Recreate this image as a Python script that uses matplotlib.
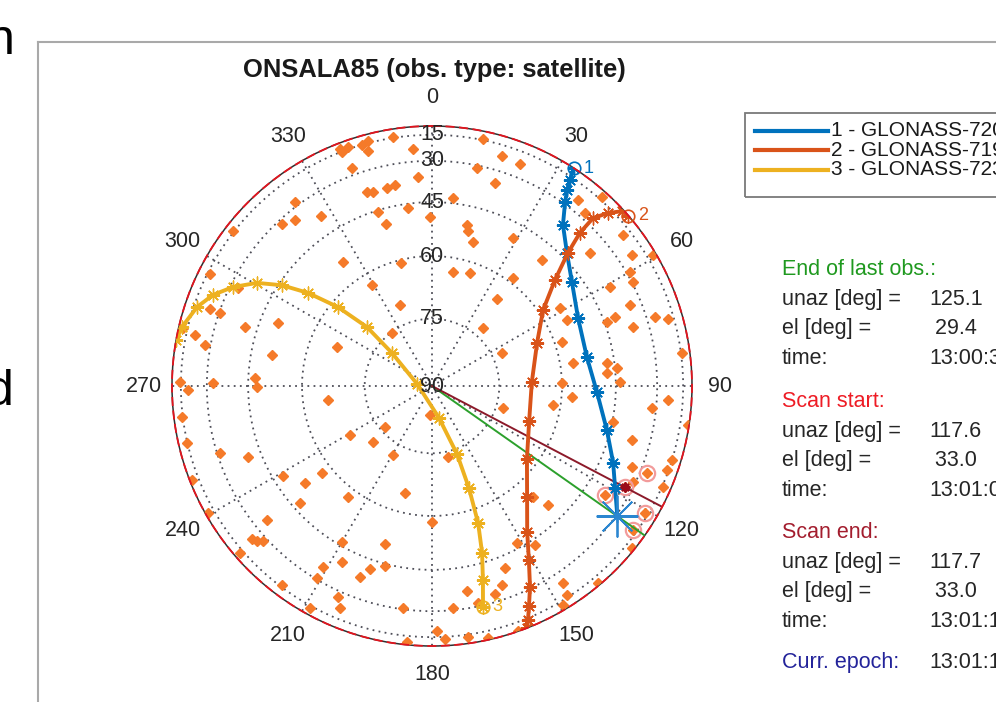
import numpy as np
import matplotlib.pyplot as plt
from matplotlib.patches import Rectangle
from matplotlib.lines import Line2D

plt.rcParams['font.family'] = ['Liberation Sans', 'DejaVu Sans']

title = 'ONSALA85 (obs. type: satellite)'

sat_names = ['1 - GLONASS-720', '2 - GLONASS-719', '3 - GLONASS-723']
sat_colors = ['#0072bd', '#d95319', '#edb120']

# track samples: unambiguous azimuth and elevation [deg]
az_sat1 = [33.0, 33.8, 34.6, 35.9, 39.1, 45.4, 53.4, 65.0, 79.4, 92.1, 104.1, 113.0, 119.1, 125.1]
el_sat1 = [2.0, 17.5, 23.8, 29.2, 37.0, 43.2, 47.9, 51.7, 52.7, 50.6, 46.1, 40.8, 36.3, 29.4]

az_sat2 = [49.0, 47.4, 45.5, 43.8, 44.0, 45.6, 49.2, 55.6, 67.7, 87.7, 109.8, 127.5, 139.4,
           146.9, 150.9, 154.0, 156.2, 157.7, 158.6]
el_sat2 = [2.0, 6.6, 18.4, 26.5, 35.0, 43.0, 51.3, 58.8, 64.1, 67.4, 66.6, 62.6, 55.8,
           47.9, 40.0, 30.7, 22.4, 13.4, 2.0]

az_sat3 = [167.0, 165.3, 163.3, 161.4, 160.1, 159.8, 167.7, 277.6, 309.5, 312.2, 310.0,
           306.9, 303.9, 300.5, 296.4, 292.6, 288.6, 283.3, 280.1]
el_sat3 = [29.3, 39.5, 47.9, 56.2, 65.3, 73.8, 82.8, 86.7, 78.5, 70.3, 61.8,
           53.4, 46.0, 38.6, 31.2, 24.2, 17.6, 8.9, 1.0]

# other sources of the schedule
az_src = [351.1, 345.4, 343.8, 344.8, 340.6, 338.8, 339.0, 355.4, 339.8, 356.2, 341.5, 343.1,
          347.2, 349.6, 323.3, 342.8, 352.3, 359.3, 317.2, 320.5, 326.9, 344.1, 307.9, 324.3,
          345.9, 296.8,
          11.7, 16.9, 21.6, 11.7, 17.2, 6.4, 12.3, 13.1, 15.9, 28.7, 38.1, 42.0, 41.5, 49.9,
          51.7, 56.8, 59.3, 41.1, 10.4, 18.6, 36.9, 60.1, 62.6, 60.9, 36.8, 58.6, 67.8, 72.8,
          74.2, 63.9, 69.9, 69.3, 73.6, 41.3, 71.3,
          329.3, 296.8, 289.1, 289.0, 338.4, 287.5, 292.2, 283.1, 282.1, 280.2, 323.0, 292.3,
          281.0, 270.9, 270.8, 272.6, 269.7, 269.1, 262.3, 183.9, 262.9, 228.9, 239.1, 226.5,
          256.9,
          64.8, 80.7, 82.5, 85.8, 84.4, 88.8, 88.7, 94.5, 93.4, 95.7, 98.9, 107.2, 209.5, 167.3,
          105.1, 107.1, 112.0, 135.7, 137.7, 194.2, 180.0,
          82.5, 101.2, 98.7, 109.7, 113.6, 112.0, 115.5, 122.2, 120.8, 125.6, 151.6, 147.1,
          129.0, 158.1, 146.4, 139.9, 147.1, 149.1, 117.6,
          252.5, 248.9, 238.9, 231.7, 232.6, 217.1, 228.4, 248.6, 240.4, 230.9, 229.6, 228.5,
          227.5, 210.0, 196.6, 229.0, 207.1, 211.1, 198.7, 194.6, 200.7, 210.9, 217.0, 170.3,
          160.6, 163.1, 204.0, 208.8, 202.5, 187.4, 174.6, 168.0, 178.8, 177.1, 185.6, 171.8,
          167.5, 160.7]
el_src = [14.3, 13.1, 15.2, 20.5, 13.1, 12.1, 15.4, 23.8, 26.7, 36.3, 38.1, 38.7,
          38.7, 38.2, 28.1, 45.5, 46.3, 49.5, 31.9, 34.1, 38.7, 49.6, 14.1, 54.1,
          60.8, 17.0,
          14.1, 22.4, 23.3, 31.1, 35.1, 43.3, 50.7, 52.3, 54.8, 49.5, 24.5, 12.1, 27.4, 37.4,
          20.5, 23.1, 8.9, 50.0, 63.5, 62.7, 58.7, 28.5, 29.5, 38.4, 65.3, 54.8, 34.6, 26.1,
          19.3, 54.7, 44.2, 41.2, 36.3, 72.7, 58.1,
          63.1, 33.3, 25.3, 30.5, 70.4, 41.0, 50.2, 10.5, 21.2, 27.5, 75.2, 66.7,
          51.2, 14.3, 32.6, 47.0, 47.7, 20.2, 66.2, 83.6, 14.3, 76.1, 68.5, 71.8,
          14.7,
          72.7, 56.6, 47.2, 47.5, 44.4, 43.7, 60.0, 57.3, 24.6, 31.8, 61.9, 73.4, 72.2, 73.7,
          37.2, 15.0, 26.9, 50.3, 54.7, 64.9, 58.5,
          14.1, 44.8, 5.0, 16.3, 14.1, 33.9, 31.0, 38.2, 17.5, 18.0, 46.6, 43.2,
          8.1, 41.0, 24.5, 7.8, 16.9, 11.0, 33.0,
          31.2, 40.7, 47.9, 57.4, 52.1, 57.6, 47.3, 7.6, 8.0, 35.1, 24.7, 25.9,
          28.1, 46.1, 50.7, 11.8, 40.5, 35.6, 42.0, 44.3, 38.3, 30.6, 16.6, 36.9,
          35.8, 33.3, 27.3, 13.1, 22.5, 30.6, 30.9, 31.5, 19.5, 13.1, 8.5, 12.8,
          6.8, 2.0]

# sources flagged around the antenna position
az_cand = [112.0, 122.2, 120.8, 125.6, 117.6]
el_cand = [26.9, 38.2, 17.5, 18.0, 33.0]

last_unaz, last_el, last_time = 125.1, 29.4, '13:00:3'
start_unaz, start_el, start_time = 117.6, 33.0, '13:01:0'
end_unaz, end_el, end_time = 117.7, 33.0, '13:01:1'
curr_epoch = '13:01:1'

W, H = 996, 702


def fx(x):
    return x / W


def fy(y):
    return 1 - y / H


def rad(a):
    return np.radians(np.asarray(a, dtype=float))


def rr(e):
    # orthographic sky projection: zenith in the middle, horizon at r = 1
    return np.cos(np.radians(np.asarray(e, dtype=float)))


fig = plt.figure(figsize=(W / 100, H / 100), dpi=100)

# page text and window frame around the plot
fig.text(fx(15), fy(54), 'n', ha='right', va='baseline', fontsize=36, color='black')
fig.text(fx(14), fy(405), 'd', ha='right', va='baseline', fontsize=36, color='black')
fig.add_artist(Line2D([fx(38), fx(38)], [fy(42), fy(710)], color='#a9a9a9', lw=1.5))
fig.add_artist(Line2D([fx(38), fx(1000)], [fy(42), fy(42)], color='#a9a9a9', lw=1.5))

cx, cy, R = 432, 386, 260
ax = fig.add_axes([fx(cx - R), fy(cy + R), 2 * R / W, 2 * R / H], projection='polar')
ax.set_theta_zero_location('N')
ax.set_theta_direction(-1)
ax.set_ylim(0, 1)

el_rings = [15, 30, 45, 60, 75]
ax.set_rgrids(rr(el_rings), labels=[''] * len(el_rings))
ax.set_thetagrids(range(0, 360, 30), labels=[''] * 12)
ax.grid(True, color='#4e4e58', linestyle=(0, (1, 2.4)), linewidth=1.3)
ax.spines['polar'].set_color('#303030')
ax.spines['polar'].set_linewidth(1.1)

th = np.linspace(0, 2 * np.pi, 721)
ax.plot(th, np.ones_like(th), color='#e4141e', ls=(0, (5, 2.5)), lw=1.3, clip_on=False, zorder=6)

for a in range(0, 360, 30):
    ax.text(np.radians(a), 1.108, str(a), ha='center', va='center', fontsize=15.5,
            color='#262626', clip_on=False)
for e in el_rings + [90]:
    ax.text(0, rr(e), str(e), ha='center', va='center', fontsize=15.5, color='#262626', zorder=7)

ax.plot(rad(az_src), rr(el_src), ls='none', marker='D', ms=4.8, color='#f57a29', zorder=3)
ax.plot(rad(az_cand), rr(el_cand), ls='none', marker='o', ms=11, mfc='none',
        mec='#f29b9b', mew=1.6, zorder=3.5)

# directions of the last observation and of the scan
ax.plot(rad([last_unaz, last_unaz]), [0, 1], color='#2ca02c', lw=1.4, zorder=4)
ax.plot(rad([end_unaz, end_unaz]), [0, 1], color='#8c1a2a', lw=1.4, zorder=4)

tracks = [(az_sat1, el_sat1), (az_sat2, el_sat2), (az_sat3, el_sat3)]
for i, (az, el) in enumerate(tracks):
    c = sat_colors[i]
    ax.plot(rad(az), rr(el), color=c, lw=2.8, marker=(8, 2, 0), ms=9.5, mew=1.0, zorder=5)
    ax.plot(rad(az[0]), rr(el[0]), ls='none', marker='o', ms=9, mfc='none', mec=c,
            mew=1.2, zorder=5, clip_on=False)
    ax.annotate(str(i + 1), (rad(az[0]), rr(el[0])), xytext=(7, 0), textcoords='offset points',
                ha='left', va='center', fontsize=13, color=c, zorder=6)

ax.plot(rad(last_unaz), rr(last_el), ls='none', marker=(8, 2, 0), ms=30, mew=1.3,
        color='#2b86d0', zorder=6)
ax.plot(rad(start_unaz), rr(start_el), ls='none', marker=(8, 2, 0), ms=7, mew=1.5,
        color='#9b0a1a', zorder=6)

fig.text(fx(434), fy(70), title, ha='center', va='center', fontsize=18.4, fontweight='bold',
         color='#1a1a1a')

# legend box running past the right edge
fig.add_artist(Rectangle((fx(745), fy(197)), (1010 - 745) / W, (197 - 113) / H, fill=False,
                         ec='#7a7a7a', lw=1.3))
for i, name in enumerate(sat_names):
    y = 130.5 + 19.5 * i
    fig.add_artist(Line2D([fx(755), fx(828)], [fy(y), fy(y)], color=sat_colors[i], lw=3))
    fig.text(fx(831), fy(y), name, ha='left', va='center', fontsize=15, color='#1a1a1a')

# scan info block
groups = [
    ('End of last obs.:', '#1f991f', last_unaz, last_el, last_time, 275),
    ('Scan start:', '#ee1c25', start_unaz, start_el, start_time, 407),
    ('Scan end:', '#a31d2e', end_unaz, end_el, end_time, 538),
]
for head, col, unaz, el, t, y0 in groups:
    fig.text(fx(782), fy(y0), head, ha='left', va='baseline', fontsize=15.5, color=col)
    rows = [('unaz [deg] =', '%5.1f' % unaz), ('el [deg] =', '%5.1f' % el), ('time:', t)]
    for k, (lab, val) in enumerate(rows):
        yb = y0 + 30 + 29.3 * k
        fig.text(fx(782), fy(yb), lab, ha='left', va='baseline', fontsize=15.5, color='#262626')
        fig.text(fx(929), fy(yb), val, ha='left', va='baseline', fontsize=15.5, color='#262626')
fig.text(fx(782), fy(668), 'Curr. epoch:', ha='left', va='baseline', fontsize=15.5,
         color='#23239a')
fig.text(fx(929), fy(668), curr_epoch, ha='left', va='baseline', fontsize=15.5, color='#262626')

fig.savefig('out.png', dpi=100)
